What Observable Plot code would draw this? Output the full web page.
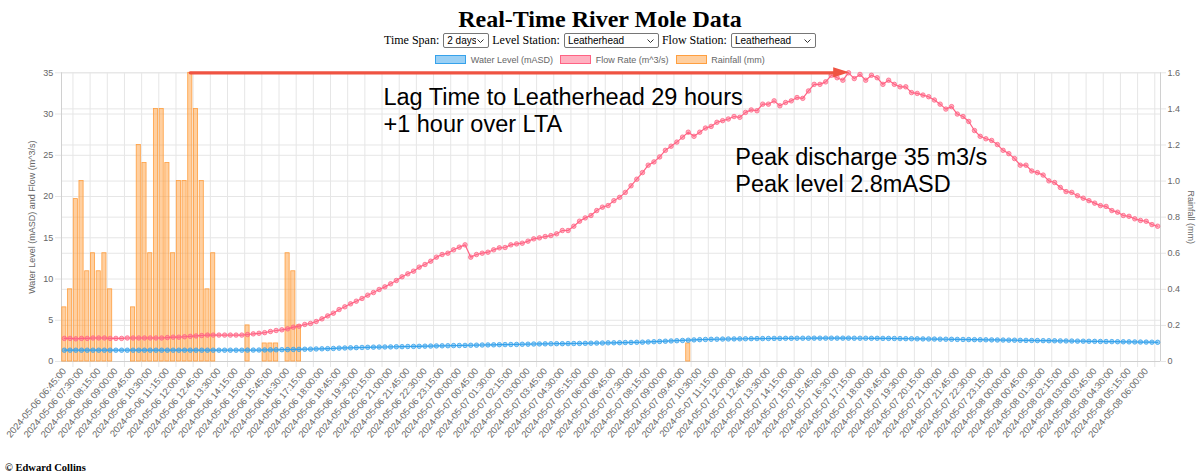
<!DOCTYPE html>
<html>
<head>
<meta charset="utf-8">
<script src="https://cdn.jsdelivr.net/npm/d3@7"></script>
<script src="https://cdn.jsdelivr.net/npm/@observablehq/plot@0.6"></script>
<style>
html,body{margin:0;padding:0;background:#fff;}
#wrap{position:relative;width:1200px;height:476px;overflow:hidden;}
#title{position:absolute;top:7px;left:0;width:1200px;text-align:center;font:bold 24px/24px "Liberation Serif","Times New Roman",serif;color:#000;}
#controls{position:absolute;top:33px;left:0;width:1200px;height:15px;display:flex;justify-content:center;align-items:center;font:12px/15px "Liberation Serif","Times New Roman",serif;color:#000;}
#controls select{-webkit-appearance:none;appearance:none;font:10px "Liberation Sans",Arial,sans-serif;color:#000;height:15px;margin:0 3px 0 4px;padding:0 12px 0 3px;box-sizing:border-box;border:1px solid #767676;border-radius:2px;
  background:#fff url("data:image/svg+xml,%3Csvg xmlns='http://www.w3.org/2000/svg' width='7' height='4'%3E%3Cpath d='M0.5 0.5 L3.5 3.5 L6.5 0.5' fill='none' stroke='%23333' stroke-width='1'/%3E%3C/svg%3E") no-repeat right 4px center;}
#controls select:last-child{margin-right:0;}
#legend{position:absolute;top:55px;left:0;width:1200px;height:9.5px;display:flex;justify-content:center;align-items:center;font:9px "Liberation Sans",Arial,sans-serif;color:#666;}
.item{display:flex;align-items:center;margin:0 3.6px;}
.box{width:31px;height:9px;box-sizing:border-box;border:1px solid;margin-right:4.5px;}
#chart{position:absolute;top:66px;left:0;}
#footer{position:absolute;top:462px;left:5px;font:bold 10.5px/12px "Liberation Serif","Times New Roman",serif;color:#000;}
</style>
</head>
<body>
<div id="wrap">
  <div id="title">Real-Time River Mole Data</div>
  <div id="controls"></div>
  <div id="legend"></div>
  <div id="chart"></div>
  <div id="footer">© Edward Collins</div>
</div>
<script>
// ---------- DATA ----------
const titleText = "Real-Time River Mole Data";
const timeSpanOptions = ["2 days"];
const stationOptions = ["Leatherhead"];

const seriesNames = ["Water Level (mASD)", "Flow Rate (m^3/s)", "Rainfall (mm)"];
const seriesColors = ["rgb(54,162,235)", "rgb(255,99,132)", "rgb(255,159,64)"];
const seriesFills = ["rgba(54,162,235,0.5)", "rgba(255,99,132,0.5)", "rgba(255,159,64,0.5)"];

// x tick labels (every 3rd 15-minute reading)
const tickLabels = [
"2024-05-06 06:45:00","2024-05-06 07:30:00","2024-05-06 08:15:00","2024-05-06 09:00:00","2024-05-06 09:45:00",
"2024-05-06 10:30:00","2024-05-06 11:15:00","2024-05-06 12:00:00","2024-05-06 12:45:00","2024-05-06 13:30:00",
"2024-05-06 14:15:00","2024-05-06 15:00:00","2024-05-06 15:45:00","2024-05-06 16:30:00","2024-05-06 17:15:00",
"2024-05-06 18:00:00","2024-05-06 18:45:00","2024-05-06 19:30:00","2024-05-06 20:15:00","2024-05-06 21:00:00",
"2024-05-06 21:45:00","2024-05-06 22:30:00","2024-05-06 23:15:00",
"2024-05-07 00:00:00","2024-05-07 00:45:00","2024-05-07 01:30:00","2024-05-07 02:15:00","2024-05-07 03:00:00",
"2024-05-07 03:45:00","2024-05-07 04:30:00","2024-05-07 05:15:00","2024-05-07 06:00:00","2024-05-07 06:45:00",
"2024-05-07 07:30:00","2024-05-07 08:15:00","2024-05-07 09:00:00","2024-05-07 09:45:00","2024-05-07 10:30:00",
"2024-05-07 11:15:00","2024-05-07 12:00:00","2024-05-07 12:45:00","2024-05-07 13:30:00","2024-05-07 14:15:00",
"2024-05-07 15:00:00","2024-05-07 15:45:00","2024-05-07 16:30:00","2024-05-07 17:15:00","2024-05-07 18:00:00",
"2024-05-07 18:45:00","2024-05-07 19:30:00","2024-05-07 20:15:00","2024-05-07 21:00:00","2024-05-07 21:45:00",
"2024-05-07 22:30:00","2024-05-07 23:15:00",
"2024-05-08 00:00:00","2024-05-08 00:45:00","2024-05-08 01:30:00","2024-05-08 02:15:00","2024-05-08 03:00:00",
"2024-05-08 03:45:00","2024-05-08 04:30:00","2024-05-08 05:15:00","2024-05-08 06:00:00"
];
const readingsPerTick = 3;

// Flow rate (m^3/s), one per 15 minutes
const flow = [
2.8,2.8,2.75,2.8,2.8,2.85,2.85,2.85,2.8,2.8,
2.8,2.85,2.85,2.85,2.85,2.85,2.85,2.85,2.9,2.95,
2.95,3.0,3.05,3.1,3.15,3.2,3.2,3.2,3.2,3.2,
3.2,3.2,3.27,3.35,3.42,3.5,3.64,3.76,3.84,3.96,
4.16,4.28,4.49,4.61,4.85,5.17,5.53,5.86,6.3,6.63,
6.99,7.31,7.64,8.04,8.36,8.73,9.05,9.42,9.82,10.27,
10.63,10.95,11.44,11.76,12.16,12.65,12.97,13.13,13.54,13.86,
14.14,12.65,12.97,13.13,13.25,13.54,13.78,13.82,14.14,14.26,
14.34,14.59,14.87,14.99,15.15,15.27,15.48,15.88,15.88,16.4,
17.01,17.41,17.7,18.3,18.71,18.91,19.5,19.9,20.5,21.3,
22.1,22.9,23.8,24.2,24.8,25.6,26.1,26.6,27.2,27.8,
27.3,27.8,28.3,28.5,29.0,29.2,29.4,29.7,29.6,30.2,
30.5,30.4,31.2,31.2,31.6,31.0,31.4,31.6,32.0,31.9,
32.8,33.6,33.6,33.9,34.7,34.4,34.1,35.0,34.3,34.8,
34.1,34.7,34.4,33.6,34.1,33.6,33.3,33.3,32.6,32.5,
32.3,32.1,31.7,31.2,30.6,30.9,30.0,29.7,29.1,28.0,
27.3,27.0,26.8,26.3,25.6,25.2,24.6,23.8,23.8,23.1,
22.9,22.6,21.9,21.7,21.1,20.6,20.5,20.1,19.8,19.5,
19.2,18.9,18.8,18.3,18.1,17.7,17.6,17.3,17.1,17.0,
16.6,16.4
];

// Water level (mASD)
const level = [
1.37,1.37,1.37,1.37,1.37,1.37,1.37,1.37,1.37,1.37,1.37,1.37,
1.37,1.37,1.37,1.37,1.37,1.37,1.37,1.37,1.37,1.37,1.37,1.37,
1.37,1.37,1.37,1.37,1.37,1.37,1.37,1.37,1.38,1.38,1.39,1.40,
1.41,1.42,1.43,1.44,1.46,1.47,1.49,1.50,1.52,1.54,1.56,1.58,
1.62,1.64,1.66,1.68,1.70,1.72,1.74,1.75,1.76,1.77,1.79,1.80,
1.82,1.83,1.84,1.86,1.87,1.89,1.90,1.91,1.93,1.94,1.95,1.97,
1.98,2.00,2.01,2.02,2.04,2.05,2.06,2.07,2.09,2.10,2.12,2.13,
2.14,2.15,2.16,2.16,2.17,2.18,2.19,2.20,2.22,2.23,2.24,2.26,
2.27,2.28,2.30,2.31,2.33,2.34,2.37,2.40,2.43,2.46,2.49,2.52,
2.55,2.58,2.62,2.65,2.67,2.69,2.70,2.72,2.73,2.74,2.75,2.76,
2.77,2.78,2.78,2.79,2.80,2.80,2.81,2.81,2.82,2.82,2.82,2.83,
2.83,2.83,2.83,2.83,2.83,2.83,2.82,2.82,2.82,2.81,2.81,2.80,
2.80,2.79,2.78,2.77,2.76,2.75,2.74,2.73,2.72,2.71,2.70,2.69,
2.68,2.67,2.66,2.65,2.64,2.63,2.62,2.61,2.60,2.59,2.58,2.57,
2.56,2.55,2.54,2.53,2.52,2.51,2.50,2.49,2.48,2.47,2.46,2.45,
2.44,2.43,2.42,2.41,2.40,2.39,2.38,2.37,2.36,2.35,2.34,2.33
];

// Rainfall (mm)
const rain = [
0.3,0.4,0.9,1.0,0.5,0.6,0.5,0.6,0.4,0,0,0,
0.3,1.2,1.1,0.6,1.4,1.4,1.1,0.6,1.0,1.0,1.6,1.4,
1.0,0.4,0.6,0,0,0,0,0,0.2,0,0,0.1,
0.1,0.1,0,0.6,0.5,0.2,0,0,0,0,0,0,
0,0,0,0,0,0,0,0,0,0,0,0,
0,0,0,0,0,0,0,0,0,0,0,0,
0,0,0,0,0,0,0,0,0,0,0,0,
0,0,0,0,0,0,0,0,0,0,0,0,
0,0,0,0,0,0,0,0,0,0,0,0,
0,0.1,0,0,0,0,0,0,0,0,0,0,
0,0,0,0,0,0,0,0,0,0,0,0,
0,0,0,0,0,0,0,0,0,0,0,0,
0,0,0,0,0,0,0,0,0,0,0,0,
0,0,0,0,0,0,0,0,0,0,0,0,
0,0,0,0,0,0,0,0,0,0,0,0,
0,0,0,0,0,0,0,0,0,0,0,0
];

const leftTicks = [0,5,10,15,20,25,30,35];
const leftMax = 35;
const rainTicks = [0,0.2,0.4,0.6,0.8,1.0,1.2,1.4,1.6];
const rainTickLabels = ["0","0.2","0.4","0.6","0.8","1.0","1.2","1.4","1.6"];
const rainMax = 1.6;
const leftTitle = "Water Level (mASD) and Flow (m^3/s)";
const rightTitle = "Rainfall (mm)";

// annotations (reading index, left-axis value)
const lagNote = {i: 55.75, v: 33.42, text: "Lag Time to Leatherhead 29 hours\n+1 hour over LTA"};
const peakNote = {i: 117.2, v: 26.18, text: "Peak discharge 35 m3/s\nPeak level 2.8mASD"};
const lagArrow = {from: 22, to: 137.2, v: 35, headLen: 2.8, headHalf: 0.62};
const arrowColor = "#ef5342";

// ---------- HTML controls & legend ----------
const controls = document.getElementById("controls");
function addLabel(t){ const s=document.createElement("span"); s.textContent=t; controls.appendChild(s); }
function addSelect(opts, w){ const s=document.createElement("select"); s.style.width=w+"px";
  opts.forEach(o=>{const op=document.createElement("option"); op.textContent=o; s.appendChild(op);}); controls.appendChild(s); }
addLabel("Time Span:"); addSelect(timeSpanOptions, 46);
addLabel("Level Station:"); addSelect(stationOptions, 95);
addLabel("Flow Station:"); addSelect(stationOptions, 85);

const legend = document.getElementById("legend");
seriesNames.forEach((n,k)=>{
  const it=document.createElement("div"); it.className="item";
  const b=document.createElement("div"); b.className="box"; b.style.background=seriesFills[k]; b.style.borderColor=seriesColors[k];
  const t=document.createElement("span"); t.textContent=n;
  it.appendChild(b); it.appendChild(t); legend.appendChild(it);
});

// ---------- CHART ----------
const N = flow.length;
const rainFactor = leftMax / rainMax;
const data = flow.map((f,i)=>({i, flow:f, level:level[i], rain:rain[i]}));
const tickIdx = tickLabels.map((_,k)=>k*readingsPerTick);
const gridIdx = tickIdx.map(t=>t + readingsPerTick/2);
const gridColor = "#e6e6e6";
const axisColor = "#d0d0d0";
const barHalf = 0.36;

const chart = Plot.plot({
  width: 1200,
  height: 380,
  marginTop: 6.3,
  marginLeft: 61,
  marginRight: 40,
  marginBottom: 85,
  x: {type: "linear", domain: [-0.5, N - 0.5]},
  y: {domain: [0, leftMax]},
  style: {fontFamily: '"Liberation Sans", Arial, sans-serif', fontSize: "9px", color: "#666", background: "transparent", overflow: "visible"},
  marks: [
    Plot.ruleY(leftTicks, {stroke: gridColor, insetLeft: -6}),
    Plot.ruleY(rainTicks.map(v=>v*rainFactor), {stroke: gridColor, insetRight: -6}),
    Plot.ruleX(gridIdx, {stroke: gridColor, insetBottom: -6}),
    Plot.ruleX([-0.5, N - 0.5], {stroke: axisColor}),
    Plot.ruleY([0], {stroke: axisColor}),
    Plot.rect(data.filter(d=>d.rain>0), {x1: d=>d.i-barHalf, x2: d=>d.i+barHalf, y1: 0, y2: d=>d.rain*rainFactor,
      fill: seriesFills[2], stroke: seriesColors[2], strokeWidth: 0.8}),
    Plot.line(data, {x: "i", y: "flow", stroke: seriesColors[1], strokeWidth: 1.2}),
    Plot.dot(data, {x: "i", y: "flow", r: 2.25, fill: seriesFills[1], stroke: seriesColors[1], strokeWidth: 0.75}),
    Plot.line(data, {x: "i", y: "level", stroke: seriesColors[0], strokeWidth: 1.2}),
    Plot.dot(data, {x: "i", y: "level", r: 2.25, fill: seriesFills[0], stroke: seriesColors[0], strokeWidth: 0.75}),
    Plot.axisY(leftTicks, {anchor: "left", tickSize: 0, tickPadding: 8.3, label: null, fill: "#666"}),
    Plot.axisY(rainTicks.map(v=>v*rainFactor), {anchor: "right", tickSize: 0, tickPadding: 7, label: null, fill: "#666",
      tickFormat: d => rainTickLabels[Math.round(d / rainFactor / 0.2)]}),
    Plot.axisX(tickIdx, {anchor: "bottom", tickSize: 0, tickPadding: 8, tickRotate: -50, label: null, fill: "#666", fontSize: 9.4,
      tickFormat: d => tickLabels[Math.round(d / readingsPerTick)]}),
    Plot.text([leftTitle], {frameAnchor: "left", dx: -29, rotate: -90, textAnchor: "middle", fill: "#666", fontSize: 9}),
    Plot.text([rightTitle], {frameAnchor: "right", dx: 30, rotate: 90, textAnchor: "middle", fill: "#666", fontSize: 9}),
    // lag arrow annotation
    Plot.line([{i: lagArrow.from, v: lagArrow.v}, {i: lagArrow.to - lagArrow.headLen + 0.2, v: lagArrow.v}],
      {x: "i", y: "v", stroke: arrowColor, strokeWidth: 3.2}),
    Plot.areaY([{i: lagArrow.to - lagArrow.headLen, a: lagArrow.v - lagArrow.headHalf, b: lagArrow.v + lagArrow.headHalf},
                {i: lagArrow.to, a: lagArrow.v, b: lagArrow.v}],
      {x: "i", y1: "a", y2: "b", fill: arrowColor}),
    Plot.text([lagNote, peakNote], {x: "i", y: "v", text: "text", textAnchor: "start", lineAnchor: "top",
      lineHeight: 1.15, fontSize: 23.5, fill: "#000", fontFamily: '"Liberation Sans", Arial, sans-serif'})
  ]
});
document.getElementById("chart").appendChild(chart);
</script>
</body>
</html>
